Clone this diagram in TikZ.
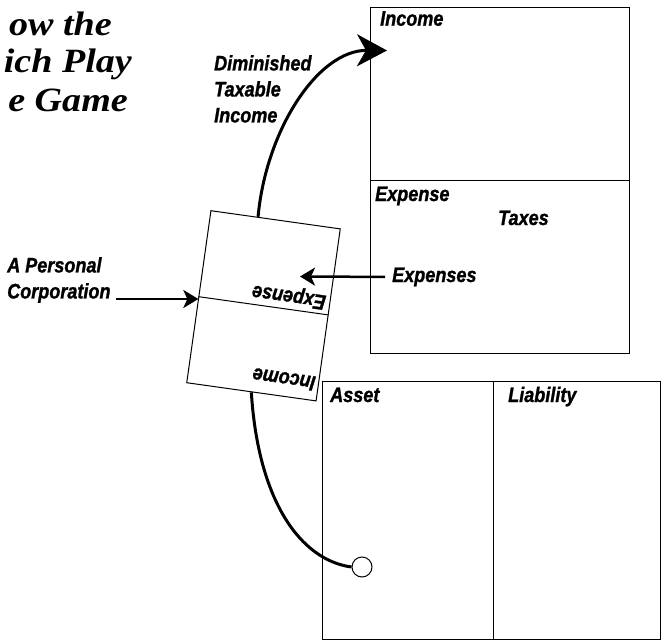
\documentclass[tikz,border=0pt]{standalone}
\usepackage{fontspec}
\setmainfont{Liberation Serif}[FakeStretch=1.12]
\newfontfamily\labfont[FakeStretch=0.86,FakeBold=1.2,UprightFont={Liberation Sans Bold Italic},BoldFont={Liberation Sans Bold Italic},ItalicFont={Liberation Sans Bold Italic},BoldItalicFont={Liberation Sans Bold Italic}]{Liberation Sans}
\usetikzlibrary{arrows.meta,calc}
\tikzset{
  lab/.style={font=\labfont\fontsize{21}{26}\selectfont, inner sep=0pt, align=left},
  ttl/.style={font=\bfseries\itshape\fontsize{34}{40}\selectfont, inner sep=0pt},
  panel/.style={draw, line width=1pt, inner sep=0pt},
  conn/.style={line width=3pt},
  thinarrow/.style={line width=2.5pt, -{Stealth[length=15pt,width=18pt,inset=4pt]}},
}
\begin{document}
\begin{tikzpicture}[x=1pt,y=1pt]
\useasboundingbox (0,0) rectangle (661,-642);

% title (cut at the left edge in the reference)
\node[ttl, anchor=base east] (t1) at (112,-36) {ow the};
\node[ttl, anchor=base east] (t2) at (132,-72) {ich Play};
\node[ttl, anchor=base east] (t3) at (128,-111.5) {e Game};

% income statement
\node[panel, anchor=north west, minimum width=259pt, minimum height=173pt] (isinc) at (370,-7) {};
\node[panel, anchor=north west, minimum width=259pt, minimum height=173pt] (isexp) at (370,-180) {};
\node[lab, anchor=base west] (lincome) at (380,-25.7) {Income};
\node[lab, anchor=base west] (lexpense) at (375,-201) {Expense};
\node[lab, anchor=base west] (ltaxes) at (498,-225) {Taxes};
\node[lab, anchor=base west] (lexpenses) at (392,-282) {Expenses};

% balance sheet
\node[panel, anchor=north west, minimum width=171pt, minimum height=258pt] (asset) at (322,-381) {};
\node[panel, anchor=north west, minimum width=166.5pt, minimum height=258pt] (liab) at (493,-381) {};
\node[lab, anchor=base west] (lasset) at (330,-402) {Asset};
\node[lab, anchor=base west] (lliab) at (508,-402) {Liability};

% personal corporation (rotated, upside-down income statement)
\begin{scope}[shift={(263.5,-305.8)}, rotate=172]
  \node[panel, transform shape, minimum width=130.6pt, minimum height=173.7pt] (pc) at (0,0) {};
  \draw[line width=1pt] (pc.west) -- (pc.east);
  \node[lab, transform shape, anchor=north west] (pcinc) at (-62.3,77.5) {Income};
  \node[lab, transform shape, anchor=north west] (pcexp) at (-61.3,-4) {Expense};
\end{scope}

% labels on the left
\node[lab, anchor=north west] (corp) at (7,-257) {A Personal\\Corporation};
\node[lab, anchor=north west] (dimin) at (214,-55) {Diminished\\Taxable\\Income};

% connectors
\coordinate (corpstart) at (116,-299);
\draw[thinarrow] (corpstart) -- (corpstart -| pc.east);

\coordinate (exptip) at (300,-276.5);
\draw[thinarrow, shorten <=7pt] (lexpenses.west) -- (exptip);

\coordinate (pctop) at ($(pc.south)!0.27!(pc.south east)$);
\coordinate (inctip) at (387,-50.5);
\draw[conn, -{Stealth[length=30pt,width=32pt,inset=9pt]}] (pctop) .. controls (266,-130) and (318,-50) .. (inctip);

\node[draw, circle, fill=white, line width=1pt, minimum size=20pt, inner sep=0pt] (dot) at (362,-567) {};
\draw[conn] (pc.north) .. controls (258,-500) and (300,-560) .. (dot.west);
\end{tikzpicture}
\end{document}
